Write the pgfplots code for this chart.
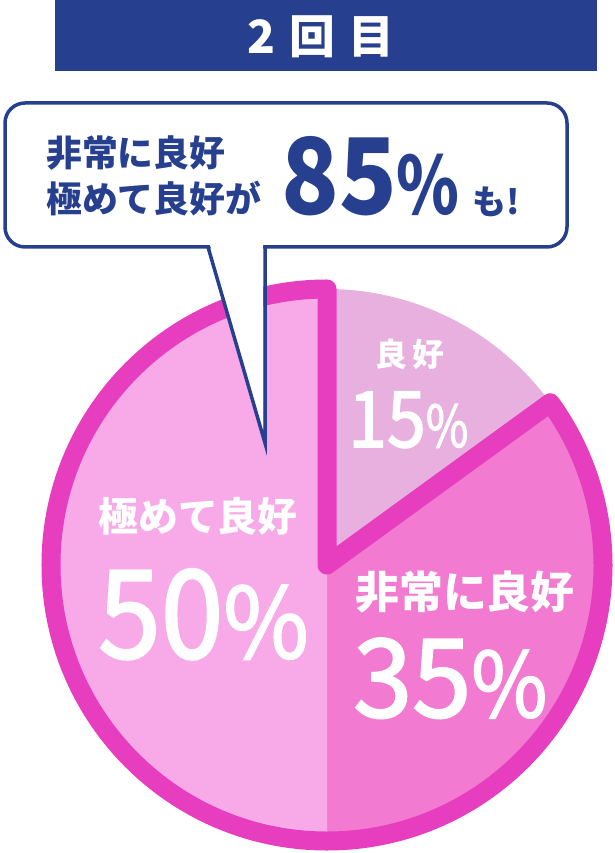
\documentclass[border=0pt]{standalone}
\usepackage{fontspec}
\usepackage{graphicx}
\usepackage{pgfplots}
\usepackage{pgfplotstable}
\pgfplotsset{compat=1.18}
\setmainfont{Noto Sans CJK JP}
\newfontfamily\numfont{Noto Sans CJK JP}[FakeBold=2]

\definecolor{navy}{HTML}{26408F}
\definecolor{mag}{HTML}{E63EBE}
\definecolor{pinkA}{HTML}{F8AAE8}  % 極めて良好
\definecolor{pinkB}{HTML}{F27BD1}  % 非常に良好
\definecolor{lav}{HTML}{E8B0DF}    % 良好

% narrow figures and percent sign: size, x-scale, text
\newcommand\dig[3]{{\fontsize{#1}{#1}\selectfont\scalebox{#2}[1]{#3}}}
\newcommand\pct[2]{{\fontsize{#1}{#1}\selectfont\scalebox{#2}[1]{\%}}}

% shares in percent, clockwise from the top
\pgfplotstableread{
slice value
1 15
2 35
3 50
}\piedata

\begin{document}
\begin{tikzpicture}[x=1bp, y=1bp]
\useasboundingbox (0,0) rectangle (615,853);
\pgfplotstablegetelem{0}{value}\of\piedata \let\vA\pgfplotsretval
\pgfplotstablegetelem{1}{value}\of\piedata \let\vB\pgfplotsretval
\pgfplotstablegetelem{2}{value}\of\piedata \let\vC\pgfplotsretval
\pgfmathsetmacro\aA{90-3.6*\vA}
\pgfmathsetmacro\aB{\aA-3.6*\vB}
\pgfmathsetmacro\aC{\aB-3.6*\vC}
\pgfmathsetmacro\aE{\aA+360}
\def\cx{327}\def\cy{288}\def\R{276}
\pgfmathsetmacro\xA{\cx+\R*cos(\aA)}\pgfmathsetmacro\yA{\cy+\R*sin(\aA)}
\pgfmathsetmacro\xB{\cx+\R*cos(\aB)}\pgfmathsetmacro\yB{\cy+\R*sin(\aB)}
\begin{axis}[
    at={(0,0)}, anchor=south west,
    x=1bp, y=1bp,
    xmin=0, xmax=615, ymin=0, ymax=853,
    hide axis, clip=false, scale only axis,
]
% slices
\fill[lav] (axis cs:\cx,\cy) -- (axis cs:\cx,\cy+\R)
    arc[start angle=90, end angle=\aA, radius=\R bp] -- cycle;
\fill[pinkB] (axis cs:\cx,\cy) -- (axis cs:\xA,\yA)
    arc[start angle=\aA, end angle=\aB, radius=\R bp] -- cycle;
\fill[pinkA] (axis cs:\cx,\cy) -- (axis cs:\xB,\yB)
    arc[start angle=\aB, end angle=\aC, radius=\R bp] -- cycle;
% outline of the 85% part
\draw[mag, line width=19bp, line join=round] (axis cs:\cx,\cy) -- (axis cs:\cx,\cy+\R)
    arc[start angle=90, end angle=\aE, radius=\R bp] -- cycle;

% pie labels
\node[white, inner sep=0, font=\fontsize{32}{32}\selectfont\bfseries] at (axis cs:410,499) {良\hspace{6bp}好};
\node[white, inner sep=0, anchor=base west, font=\numfont] at (axis cs:348,406) {\dig{78}{0.9}{15}\pct{58}{0.8}};
\node[white, inner sep=0, font=\fontsize{40}{40}\selectfont\bfseries] at (axis cs:198,337) {極めて良好};
\node[white, inner sep=0, anchor=base west, font=\numfont] at (axis cs:98,195) {\dig{123}{0.92}{50}\pct{98}{0.95}};
\node[white, inner sep=0, font=\fontsize{44}{44}\selectfont\bfseries] at (axis cs:465,261) {非常に良好};
\node[white, inner sep=0, anchor=base west, font=\numfont] at (axis cs:353,136) {\dig{109}{0.98}{35}\pct{90}{0.92}};

% banner
\fill[navy] (axis cs:55,782) rectangle (axis cs:597,853);
\node[white, font=\fontsize{46}{46}\selectfont\bfseries] at (axis cs:321,816) {2\hspace{14bp}回\hspace{14bp}目};

% speech bubble
\draw[navy, line width=3.5bp, fill=white, rounded corners=20bp] (axis cs:5,606) rectangle (axis cs:567,750);
\fill[white] (axis cs:210,608) -- (axis cs:263.2,608) -- (axis cs:263.2,412) -- cycle;
\draw[navy, line width=3.5bp, line join=miter] (axis cs:208,606) -- (axis cs:265,410) -- (axis cs:265,606);
\node[navy, inner sep=0, anchor=west, font=\fontsize{36}{36}\selectfont\bfseries] at (axis cs:46,700) {非常に良好};
\node[navy, inner sep=0, anchor=west, font=\fontsize{36}{36}\selectfont\bfseries] at (axis cs:46,654) {極めて良好が};
\node[navy, inner sep=0, anchor=base west, font=\bfseries] at (axis cs:281,638) {\dig{106}{0.9}{85}\pct{80}{0.8}};
\node[navy, inner sep=0, anchor=base west, font=\fontsize{34}{34}\selectfont\bfseries] at (axis cs:472,638) {も!};
\end{axis}
\end{tikzpicture}
\end{document}
